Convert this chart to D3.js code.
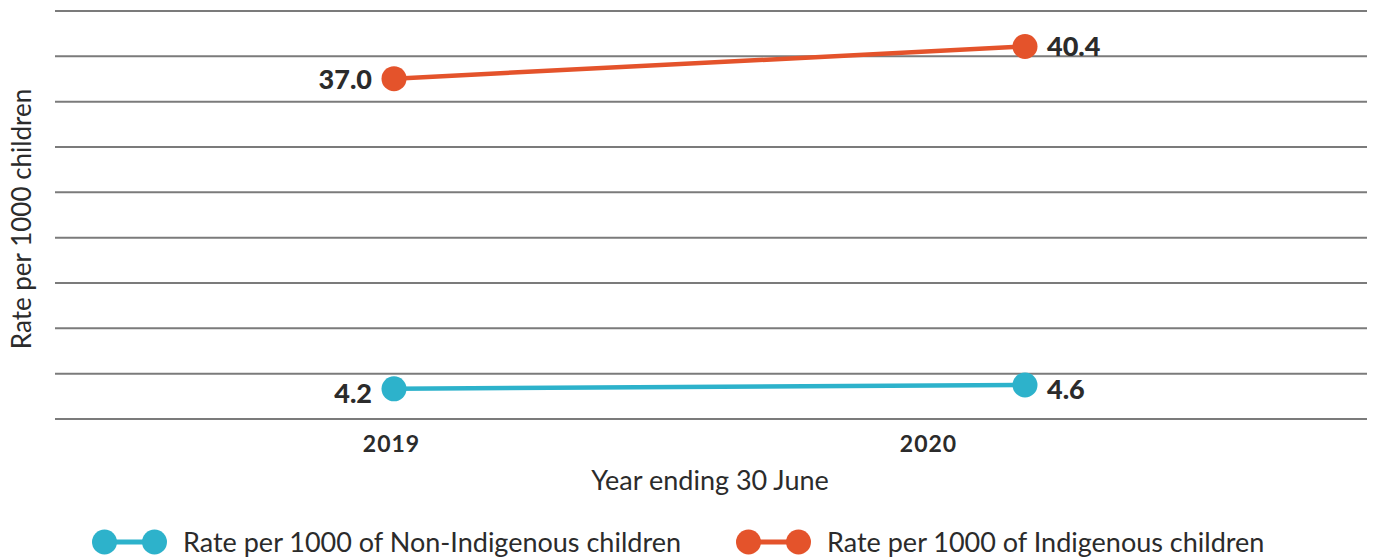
<!DOCTYPE html>
<html>
<head>
<meta charset="utf-8">
<script src="https://cdn.jsdelivr.net/npm/d3@7"></script>
<style>
  html, body { margin: 0; padding: 0; background: #fff; }
  svg { display: block; font-family: Lato, 'Open Sans', sans-serif; }
</style>
</head>
<body>
<script>
const years = ['2019', '2020']
const nonIndigenous = [4.2, 4.6]
const indigenous = [37.0, 40.4]
const seriesNames = [
  'Rate per 1000 of Non-Indigenous children',
  'Rate per 1000 of Indigenous children'
]
const gridCount = 10

const width = 1378
const height = 558
const blue = '#2db2cb'
const orange = '#e4532b'
const ink = '#2b2b2b'

const series = [
  { name: seriesNames[0], values: nonIndigenous, color: blue },
  { name: seriesNames[1], values: indigenous, color: orange }
]

const svg = d3
  .select('body')
  .append('svg')
  .attr('width', width)
  .attr('height', height)

// Scales (the original is not drawn to a strict scale, so the marks and the tick labels sit apart)
const x = d3.scalePoint().domain(years).range([394, 1025])
const xTicks = d3.scalePoint().domain(years).range([391, 928])
const y = d3.scaleLinear().domain([0, 45]).range([428.5, 3])
const grid = d3.scaleLinear().domain([0, gridCount - 1]).range([419, 11])

// Gridlines
svg
  .append('g')
  .selectAll('line')
  .data(d3.range(gridCount))
  .enter()
  .append('line')
  .attr('x1', 55)
  .attr('x2', 1367)
  .attr('y1', (d) => grid(d))
  .attr('y2', (d) => grid(d))
  .attr('stroke', '#7b7b7b')
  .attr('stroke-width', 2)

// X axis
const xAxis = svg
  .append('g')
  .attr('transform', `translate(0,${grid(0)})`)
  .call(d3.axisBottom(xTicks).tickSize(0).tickPadding(17))
xAxis.select('.domain').remove()
xAxis
  .selectAll('text')
  .attr('font-family', 'Lato, sans-serif')
  .attr('font-size', 23)
  .attr('font-weight', 700)
  .attr('fill', ink)
  .attr('letter-spacing', 1)

// Axis titles
svg
  .append('text')
  .attr('x', 710)
  .attr('y', 490)
  .attr('text-anchor', 'middle')
  .attr('font-size', 27)
  .attr('fill', ink)
  .text('Year ending 30 June')

svg
  .append('text')
  .attr('transform', 'translate(31,219) rotate(-90)')
  .attr('text-anchor', 'middle')
  .attr('font-size', 26)
  .attr('fill', ink)
  .text('Rate per 1000 children')

// Lines and points
const line = d3
  .line()
  .x((d, i) => x(years[i]))
  .y((d) => y(d))

const groups = svg
  .append('g')
  .selectAll('g')
  .data(series)
  .enter()
  .append('g')

groups
  .append('path')
  .attr('d', (d) => line(d.values))
  .attr('fill', 'none')
  .attr('stroke', (d) => d.color)
  .attr('stroke-width', 4.5)

groups
  .selectAll('circle')
  .data((d) => d.values.map((v, i) => ({ v, i, color: d.color })))
  .enter()
  .append('circle')
  .attr('cx', (d) => x(years[d.i]))
  .attr('cy', (d) => y(d.v))
  .attr('r', 12.5)
  .attr('fill', (d) => d.color)

// Value labels: first year to the left, second year to the right
groups
  .selectAll('text')
  .data((d) => d.values.map((v, i) => ({ v, i })))
  .enter()
  .append('text')
  .attr('x', (d) => x(years[d.i]) + (d.i === 0 ? -22 : 22))
  .attr('y', (d) => y(d.v) + (d.v < 10 ? 14 : 10))
  .attr('text-anchor', (d) => (d.i === 0 ? 'end' : 'start'))
  .attr('font-size', 27)
  .attr('font-weight', 900)
  .attr('fill', ink)
  .text((d) => d.v.toFixed(1))

// Legend
const legendX = [92, 736]
const legend = svg
  .append('g')
  .selectAll('g')
  .data(series)
  .enter()
  .append('g')
  .attr('transform', (d, i) => `translate(${legendX[i]},542)`)

legend
  .append('line')
  .attr('x1', 12)
  .attr('x2', 62)
  .attr('stroke', (d) => d.color)
  .attr('stroke-width', 5)

legend
  .selectAll('circle')
  .data((d) => [0, 1].map((k) => ({ k, color: d.color })))
  .enter()
  .append('circle')
  .attr('cx', (d) => 12.5 + d.k * 50)
  .attr('r', 12.5)
  .attr('fill', (d) => d.color)

legend
  .append('text')
  .attr('x', 91)
  .attr('y', 10)
  .attr('font-size', 27)
  .attr('fill', ink)
  .text((d) => d.name)
</script>
</body>
</html>
